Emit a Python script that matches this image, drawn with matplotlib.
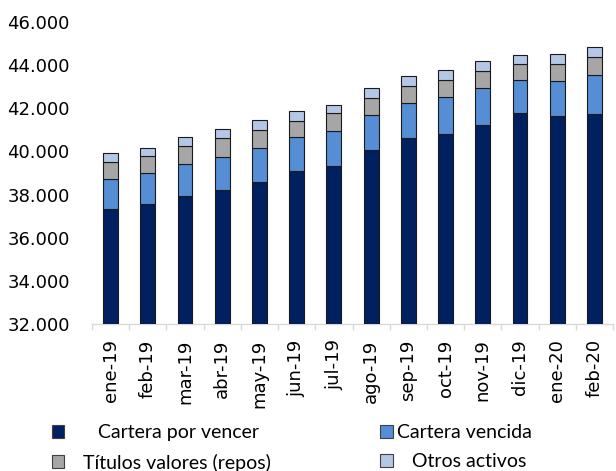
import matplotlib.pyplot as plt
import numpy as np
from matplotlib.patches import Patch

meses = ["ene-19", "feb-19", "mar-19", "abr-19", "may-19", "jun-19", "jul-19",
         "ago-19", "sep-19", "oct-19", "nov-19", "dic-19", "ene-20", "feb-20"]

# valores (millones)
por_vencer = [37345, 37560, 37915, 38192, 38562, 39101, 39347,
              40056, 40626, 40826, 41226, 41796, 41627, 41735]
vencida = [1386, 1448, 1525, 1540, 1602, 1555, 1618,
           1632, 1632, 1710, 1710, 1510, 1633, 1786]
titulos = [801, 771, 801, 894, 847, 771, 801,
           771, 771, 770, 801, 739, 816, 848]
otros = [400, 400, 431, 416, 431, 431, 385,
         462, 462, 462, 462, 431, 447, 462]

series = [
    ("Cartera por vencer", por_vencer, "#002060"),
    ("Cartera vencida", vencida, "#558ED5"),
    ("Títulos valores (repos)", titulos, "#A6A6A6"),
    ("Otros activos", otros, "#B4C7E7"),
]

fig = plt.figure(figsize=(6.16, 4.71), dpi=100)
ax = fig.add_axes([92 / 616, 1 - 324 / 471, (613 - 92) / 616, (324 - 22) / 471])

x = np.arange(len(meses))
bottom = np.zeros(len(meses))
handles = {}
for name, vals, color in series:
    vals = np.array(vals, dtype=float)
    ax.bar(x, vals, 0.4, bottom=bottom, color=color, edgecolor="#1a1a1a", linewidth=0.8, zorder=3)
    handles[name] = Patch(facecolor=color, edgecolor="#404040", linewidth=0.8)
    bottom += vals

ax.set_ylim(32000, 46000)
ax.set_xlim(-0.5, len(meses) - 0.5)
ax.set_yticks(np.arange(32000, 46001, 2000))
ax.set_yticklabels([f"{v:,}".replace(",", ".") for v in range(32000, 46001, 2000)])
ax.tick_params(axis="y", length=0, pad=16, labelsize=13)

ax.set_xticks(x)
ax.set_xticklabels(meses, rotation=90, fontsize=13)
ax.tick_params(axis="x", length=0, pad=11)
ax.set_xticks(np.arange(-0.5, len(meses)), minor=True)
ax.tick_params(axis="x", which="minor", length=4, color="#D9D9D9", width=1)

for s in ["left", "top", "right"]:
    ax.spines[s].set_visible(False)
ax.spines["bottom"].set_color("#D9D9D9")
ax.spines["bottom"].set_linewidth(1)

order = ["Cartera por vencer", "Títulos valores (repos)", "Cartera vencida", "Otros activos"]
labels = ["      Cartera por vencer", "   Títulos valores (repos)", "Cartera vencida", "   Otros activos"]
fig.legend([handles[k] for k in order], labels, ncol=2, loc="center left",
           bbox_to_anchor=(42 / 616, (471 - 448) / 471), frameon=False,
           prop={"family": "Lato", "size": 14},
           handlelength=0.65, handleheight=0.65, handletextpad=0.2,
           columnspacing=5.6, labelspacing=0.62, borderpad=0)

fig.savefig("out.png", dpi=100)
